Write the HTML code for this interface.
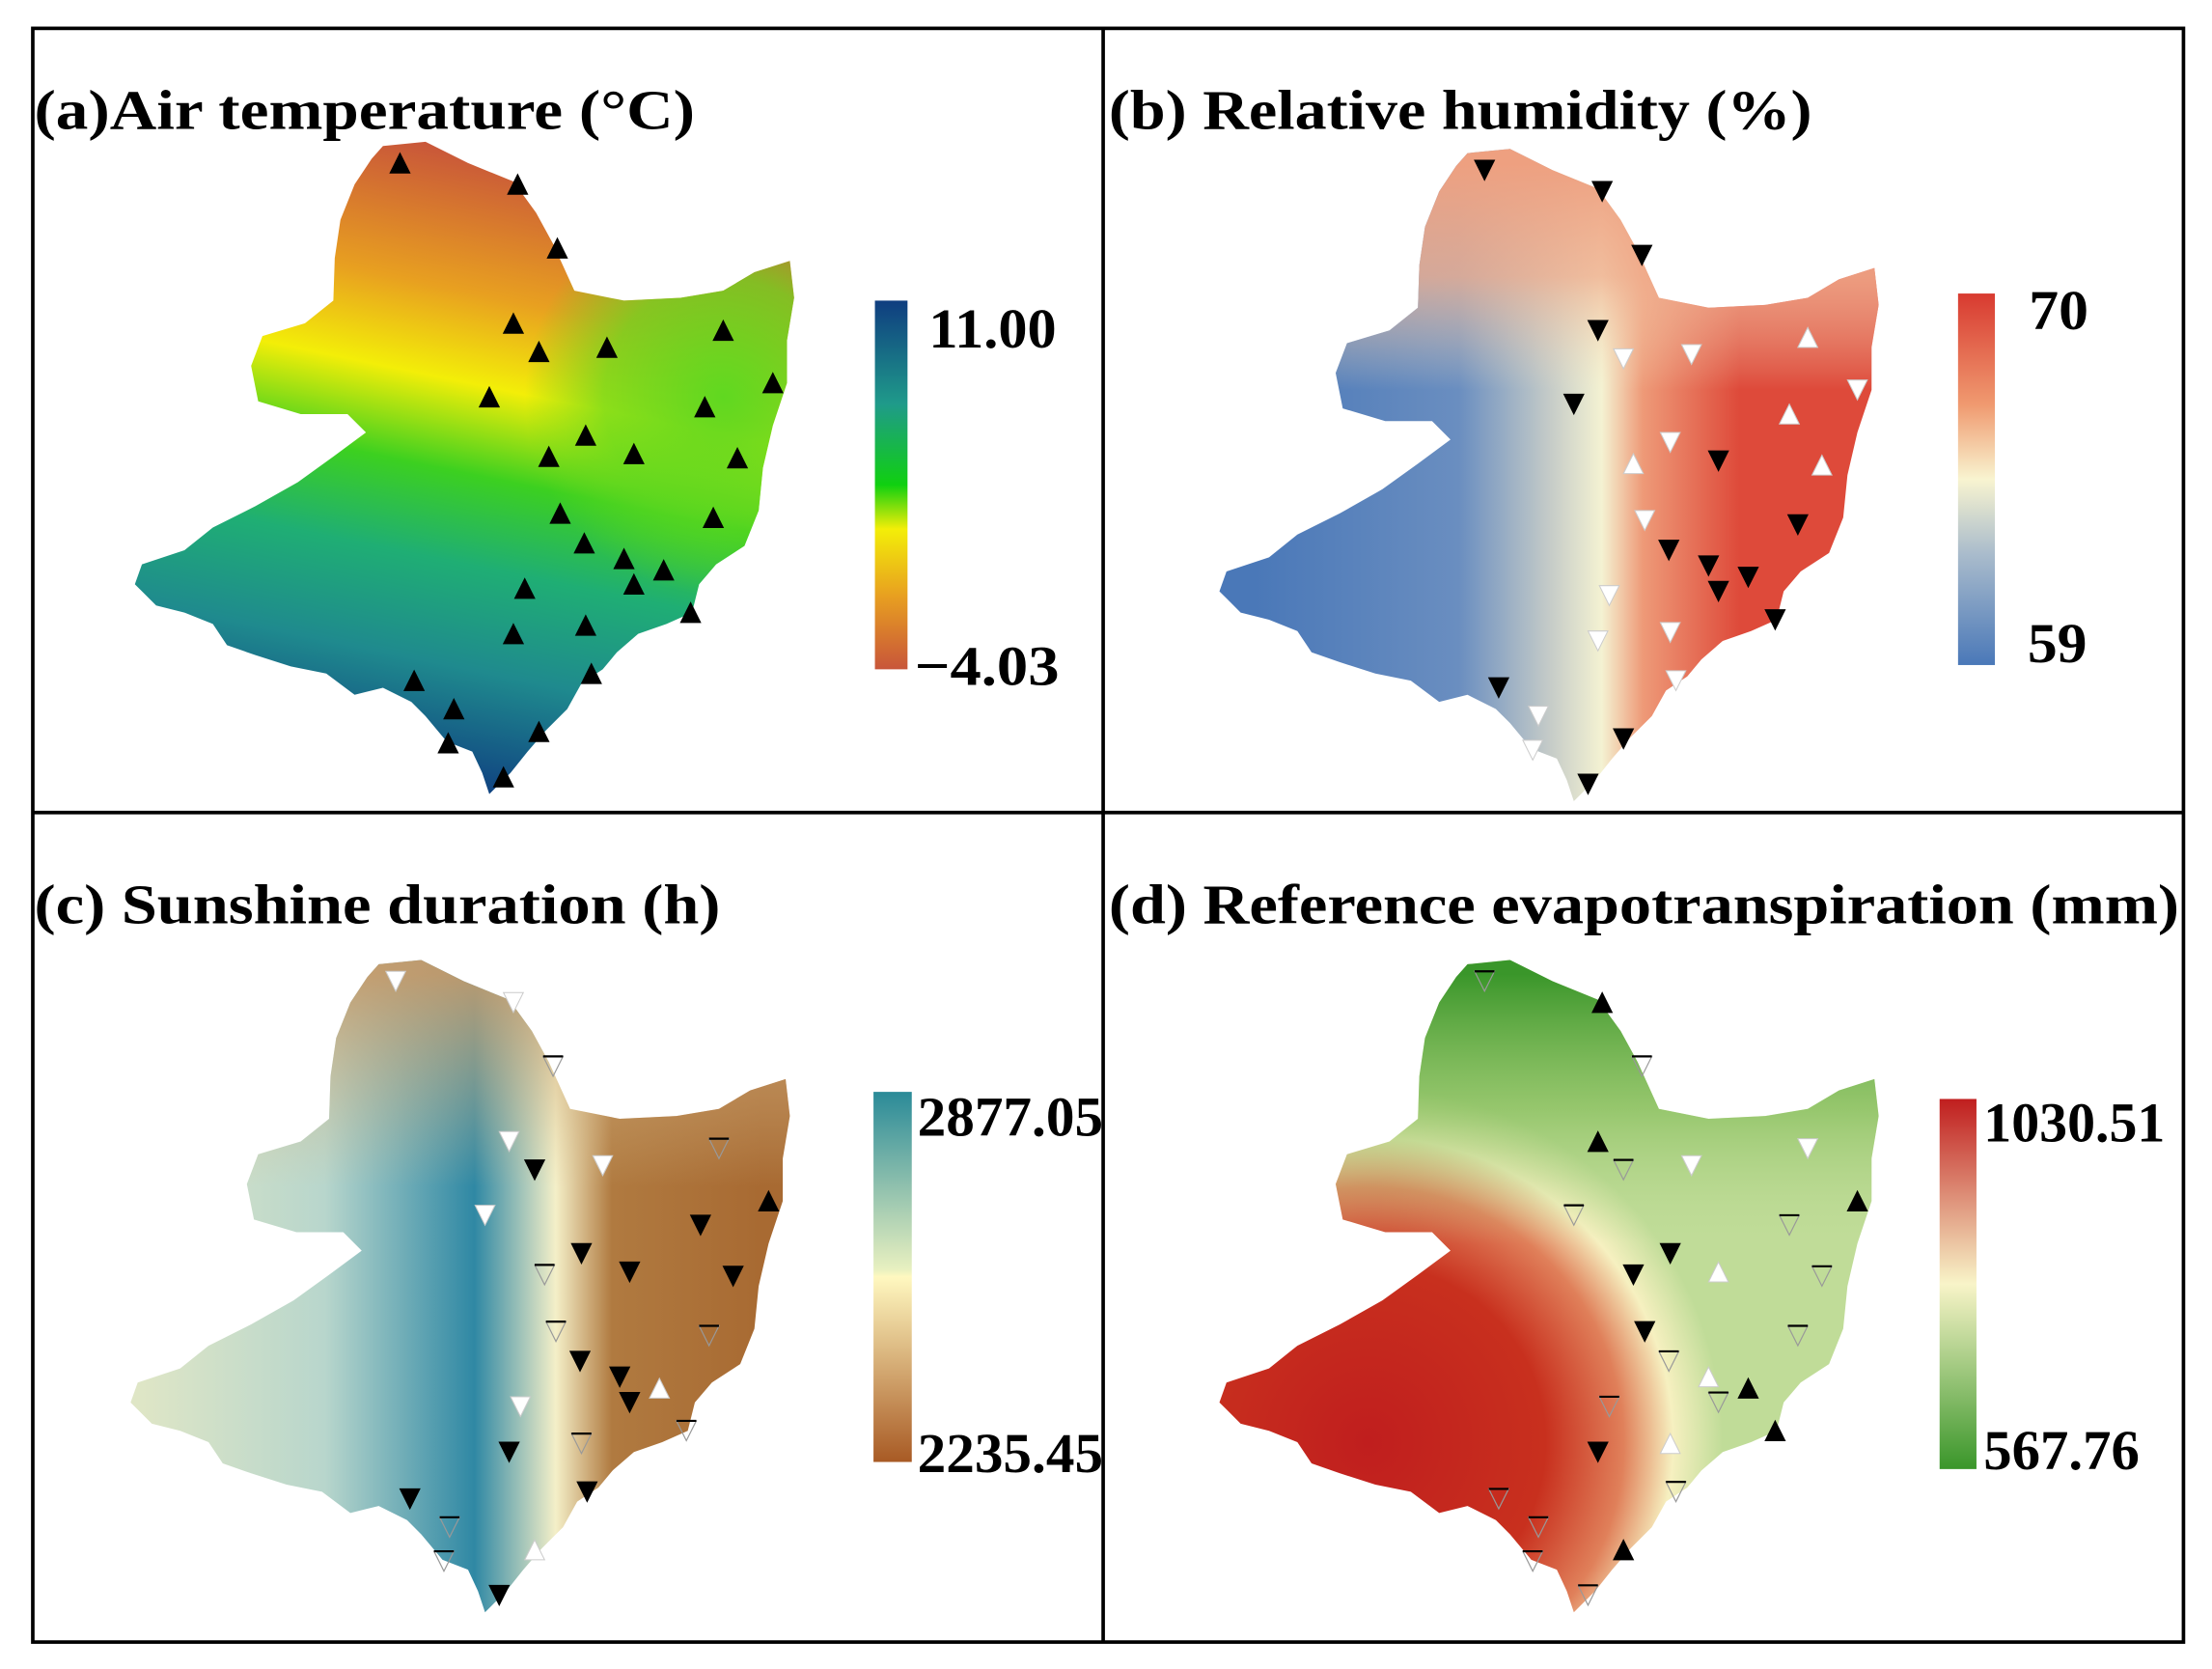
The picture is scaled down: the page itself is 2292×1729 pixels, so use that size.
<!DOCTYPE html>
<html><head><meta charset="utf-8"><style>
html,body{margin:0;padding:0;background:#fff}
svg{display:block}
text{font-family:"Liberation Serif",serif;font-weight:bold;fill:#000}
</style></head><body>
<svg id="fig" width="2292" height="1729" viewBox="0 0 1560 1177" xmlns="http://www.w3.org/2000/svg">
<defs>
<linearGradient id="gA" gradientUnits="userSpaceOnUse" x1="330" y1="105" x2="240" y2="545">
<stop offset="0" stop-color="#c8553a"/><stop offset="0.22" stop-color="#e8a020"/><stop offset="0.36" stop-color="#f3ee08"/><stop offset="0.5" stop-color="#3cd020"/><stop offset="0.64" stop-color="#1fae74"/><stop offset="0.8" stop-color="#1f8a8e"/><stop offset="1" stop-color="#0f3d80"/>
</linearGradient>
<radialGradient id="gA2" gradientUnits="userSpaceOnUse" cx="510" cy="280" r="140">
<stop offset="0" stop-color="#60d820" stop-opacity="1"/><stop offset="0.6" stop-color="#60d820" stop-opacity="0.7"/><stop offset="1" stop-color="#60d820" stop-opacity="0"/>
</radialGradient>
<linearGradient id="gB" gradientUnits="userSpaceOnUse" x1="120" y1="0" x2="480" y2="0">
<stop offset="0" stop-color="#4a78b8"/><stop offset="0.4" stop-color="#6a8ec0"/><stop offset="0.58" stop-color="#c6ccc8"/><stop offset="0.68" stop-color="#f4f2d2"/><stop offset="0.76" stop-color="#ee9a78"/><stop offset="0.95" stop-color="#de4a3a"/>
</linearGradient>
<linearGradient id="gB2" gradientUnits="userSpaceOnUse" x1="0" y1="110" x2="0" y2="270">
<stop offset="0" stop-color="#eea080" stop-opacity="1"/><stop offset="0.5" stop-color="#f0b090" stop-opacity="0.8"/><stop offset="1" stop-color="#f4e0c0" stop-opacity="0"/>
</linearGradient>
<linearGradient id="gC" gradientUnits="userSpaceOnUse" x1="100" y1="0" x2="540" y2="0">
<stop offset="0" stop-color="#dfe6c6"/><stop offset="0.3" stop-color="#b8d6cc"/><stop offset="0.54" stop-color="#2f88a4"/><stop offset="0.67" stop-color="#f4efc8"/><stop offset="0.76" stop-color="#b07a40"/><stop offset="1" stop-color="#a86a32"/>
</linearGradient>
<linearGradient id="gC2" gradientUnits="userSpaceOnUse" x1="0" y1="110" x2="0" y2="260">
<stop offset="0" stop-color="#c89a68" stop-opacity="0.9"/><stop offset="1" stop-color="#d8c090" stop-opacity="0"/>
</linearGradient>
<radialGradient id="gD" gradientUnits="userSpaceOnUse" cx="200" cy="440" r="250">
<stop offset="0" stop-color="#c01e1e"/><stop offset="0.5" stop-color="#c8301e"/><stop offset="0.72" stop-color="#e0805a"/><stop offset="0.86" stop-color="#f6f0c0"/><stop offset="1" stop-color="#c0dc98"/>
</radialGradient>
<linearGradient id="gD2" gradientUnits="userSpaceOnUse" x1="0" y1="110" x2="0" y2="300">
<stop offset="0" stop-color="#3a962a" stop-opacity="1"/><stop offset="0.5" stop-color="#7ab850" stop-opacity="0.6"/><stop offset="1" stop-color="#b8d890" stop-opacity="0"/>
</linearGradient>
<linearGradient id="cbA" x1="0" y1="0" x2="0" y2="1"><stop offset="0" stop-color="#0f3d80"/><stop offset="0.28" stop-color="#1f9a8a"/><stop offset="0.5" stop-color="#10d010"/><stop offset="0.62" stop-color="#f3ee08"/><stop offset="0.8" stop-color="#e8a020"/><stop offset="1" stop-color="#c8553a"/></linearGradient>
<linearGradient id="cbB" x1="0" y1="0" x2="0" y2="1"><stop offset="0" stop-color="#d83a30"/><stop offset="0.3" stop-color="#f09a70"/><stop offset="0.5" stop-color="#f8f4d0"/><stop offset="0.7" stop-color="#aabccc"/><stop offset="1" stop-color="#4a78b8"/></linearGradient>
<linearGradient id="cbC" x1="0" y1="0" x2="0" y2="1"><stop offset="0" stop-color="#2a8a98"/><stop offset="0.48" stop-color="#e8f0c0"/><stop offset="0.5" stop-color="#fff8c0"/><stop offset="1" stop-color="#a85a24"/></linearGradient>
<linearGradient id="cbD" x1="0" y1="0" x2="0" y2="1"><stop offset="0" stop-color="#c01e1e"/><stop offset="0.5" stop-color="#f8f4c8"/><stop offset="1" stop-color="#3a962a"/></linearGradient>
<path id="shape" d="M270,103 L300,100 L330,115 L362,128 L378,150 L390,172 L405,205 L440,212 L480,210 L510,205 L532,192 L557,184 L560,210 L555,240 L555,270 L545,300 L538,330 L535,360 L525,385 L505,398 L493,412 L488,432 L470,440 L450,447 L435,460 L425,472 L410,482 L400,500 L385,515 L372,530 L360,545 L345,560 L340,545 L333,530 L315,523 L300,505 L290,495 L270,485 L250,490 L230,475 L205,470 L180,462 L160,455 L150,440 L130,432 L110,427 L95,412 L100,398 L130,388 L150,372 L180,357 L210,340 L235,322 L258,305 L245,292 L212,292 L182,283 L177,258 L185,237 L215,228 L235,212 L236,182 L240,155 L250,130 L262,112 Z"/>
</defs>
<rect x="0" y="0" width="1560" height="1177" fill="#fff"/>
<g fill="none" stroke="#000" stroke-width="2.5">
<rect x="23" y="20" width="1517" height="1138"/>
<line x1="778" y1="20" x2="778" y2="1158"/>
<line x1="23" y1="573" x2="1540" y2="573"/>
</g>
<g>
<text x="24" y="91" font-size="40" textLength="466" lengthAdjust="spacingAndGlyphs">(a)Air temperature  (°C)</text>
<use href="#shape" fill="url(#gA)"/>
<use href="#shape" fill="url(#gA2)"/>
<rect x="617" y="212" width="23" height="260" fill="url(#cbA)"/>
<text x="655" y="245" font-size="40" textLength="90" lengthAdjust="spacingAndGlyphs">11.00</text>
<text x="645" y="483" font-size="40" textLength="102" lengthAdjust="spacingAndGlyphs">−4.03</text>
</g>
<g>
<text x="782" y="91" font-size="40" textLength="496" lengthAdjust="spacingAndGlyphs">(b) Relative humidity (%)</text>
<use href="#shape" x="765" y="5" fill="url(#gB)"/>
<use href="#shape" x="765" y="5" fill="url(#gB2)"/>
<rect x="1381" y="207" width="26" height="262" fill="url(#cbB)"/>
<text x="1431" y="232" font-size="40" textLength="42" lengthAdjust="spacingAndGlyphs">70</text>
<text x="1430" y="467" font-size="40" textLength="42" lengthAdjust="spacingAndGlyphs">59</text>
</g>
<g>
<text x="24" y="651" font-size="40" textLength="484" lengthAdjust="spacingAndGlyphs">(c) Sunshine duration (h)</text>
<use href="#shape" x="-3" y="577" fill="url(#gC)"/>
<use href="#shape" x="-3" y="577" fill="url(#gC2)"/>
<rect x="616" y="770" width="27" height="261" fill="url(#cbC)"/>
<text x="647" y="801" font-size="40" textLength="131" lengthAdjust="spacingAndGlyphs">2877.05</text>
<text x="647" y="1038" font-size="40" textLength="131" lengthAdjust="spacingAndGlyphs">2235.45</text>
</g>
<g>
<text x="782" y="651" font-size="40" textLength="755" lengthAdjust="spacingAndGlyphs">(d) Reference evapotranspiration (mm)</text>
<use href="#shape" x="765" y="577" fill="url(#gD)"/>
<use href="#shape" x="765" y="577" fill="url(#gD2)"/>
<rect x="1368" y="775" width="26" height="261" fill="url(#cbD)"/>
<text x="1399" y="805" font-size="40" textLength="128" lengthAdjust="spacingAndGlyphs">1030.51</text>
<text x="1399" y="1036" font-size="40" textLength="110" lengthAdjust="spacingAndGlyphs">567.76</text>
</g>
<g id="markers"></g>
</svg>
<script>
const stationX=[282,365,393,362,380,428,510,545,345,497,387,413,447,520,395,503,412,440,468,447,370,487,362,413,417,292,320,380,316,355];
const stationY=[115,130,175,228,248,245,233,270,280,287,322,307,320,323,362,365,383,394,402,412,415,432,447,441,475,480,500,516,524,548];
const typesA="UUUUUUUUUUUUUUUUUUUUUUUUUUUUUU";
const typesB="DDDDddudDuudDudDDDDDdDdddDdDdD";
const typesC="dd-dDd-UdD-DDD--DDuDd-D-DD-u-D";
const typesD="-U-U-ddU--DDu-D--uU--UDu---U--";
const panelOffsets=[[0,0],[765,5],[-3,577],[765,577]];
const allTypes=[typesA,typesB,typesC,typesD];
const NS="http://www.w3.org/2000/svg";
const g=document.getElementById('markers');
allTypes.forEach((types,p)=>{
  const [dx,dy]=panelOffsets[p];
  for(let i=0;i<stationX.length;i++){
    const x=stationX[i]+dx,y=stationY[i]+dy,t=types[i];
    const s=7;
    let el;
    if(t==='-'){
      el=document.createElementNS(NS,'g');
      const tri=document.createElementNS(NS,'polygon');
      tri.setAttribute('points',`${x-s},${y-s} ${x+s},${y-s} ${x},${y+s}`);
      tri.setAttribute('fill','none');tri.setAttribute('stroke','#999');tri.setAttribute('stroke-width','0.8');
      const ln=document.createElementNS(NS,'line');
      ln.setAttribute('x1',x-7);ln.setAttribute('x2',x+7);ln.setAttribute('y1',y-s);ln.setAttribute('y2',y-s);
      ln.setAttribute('stroke','#000');ln.setAttribute('stroke-width','1.5');
      el.appendChild(tri);el.appendChild(ln);
    } else {
      el=document.createElementNS(NS,'polygon');
      const up=(t==='U'||t==='u');
      el.setAttribute('points',up?`${x-s},${y+s} ${x+s},${y+s} ${x},${y-s}`:`${x-s},${y-s} ${x+s},${y-s} ${x},${y+s}`);
      const black=(t==='U'||t==='D');
      el.setAttribute('fill',black?'#000':'#fff');
      el.setAttribute('stroke',black?'#000':'#ccc');
      el.setAttribute('stroke-width','0.7');
    }
    
    
    g.appendChild(el);
  }
});
</script>
</body></html>
